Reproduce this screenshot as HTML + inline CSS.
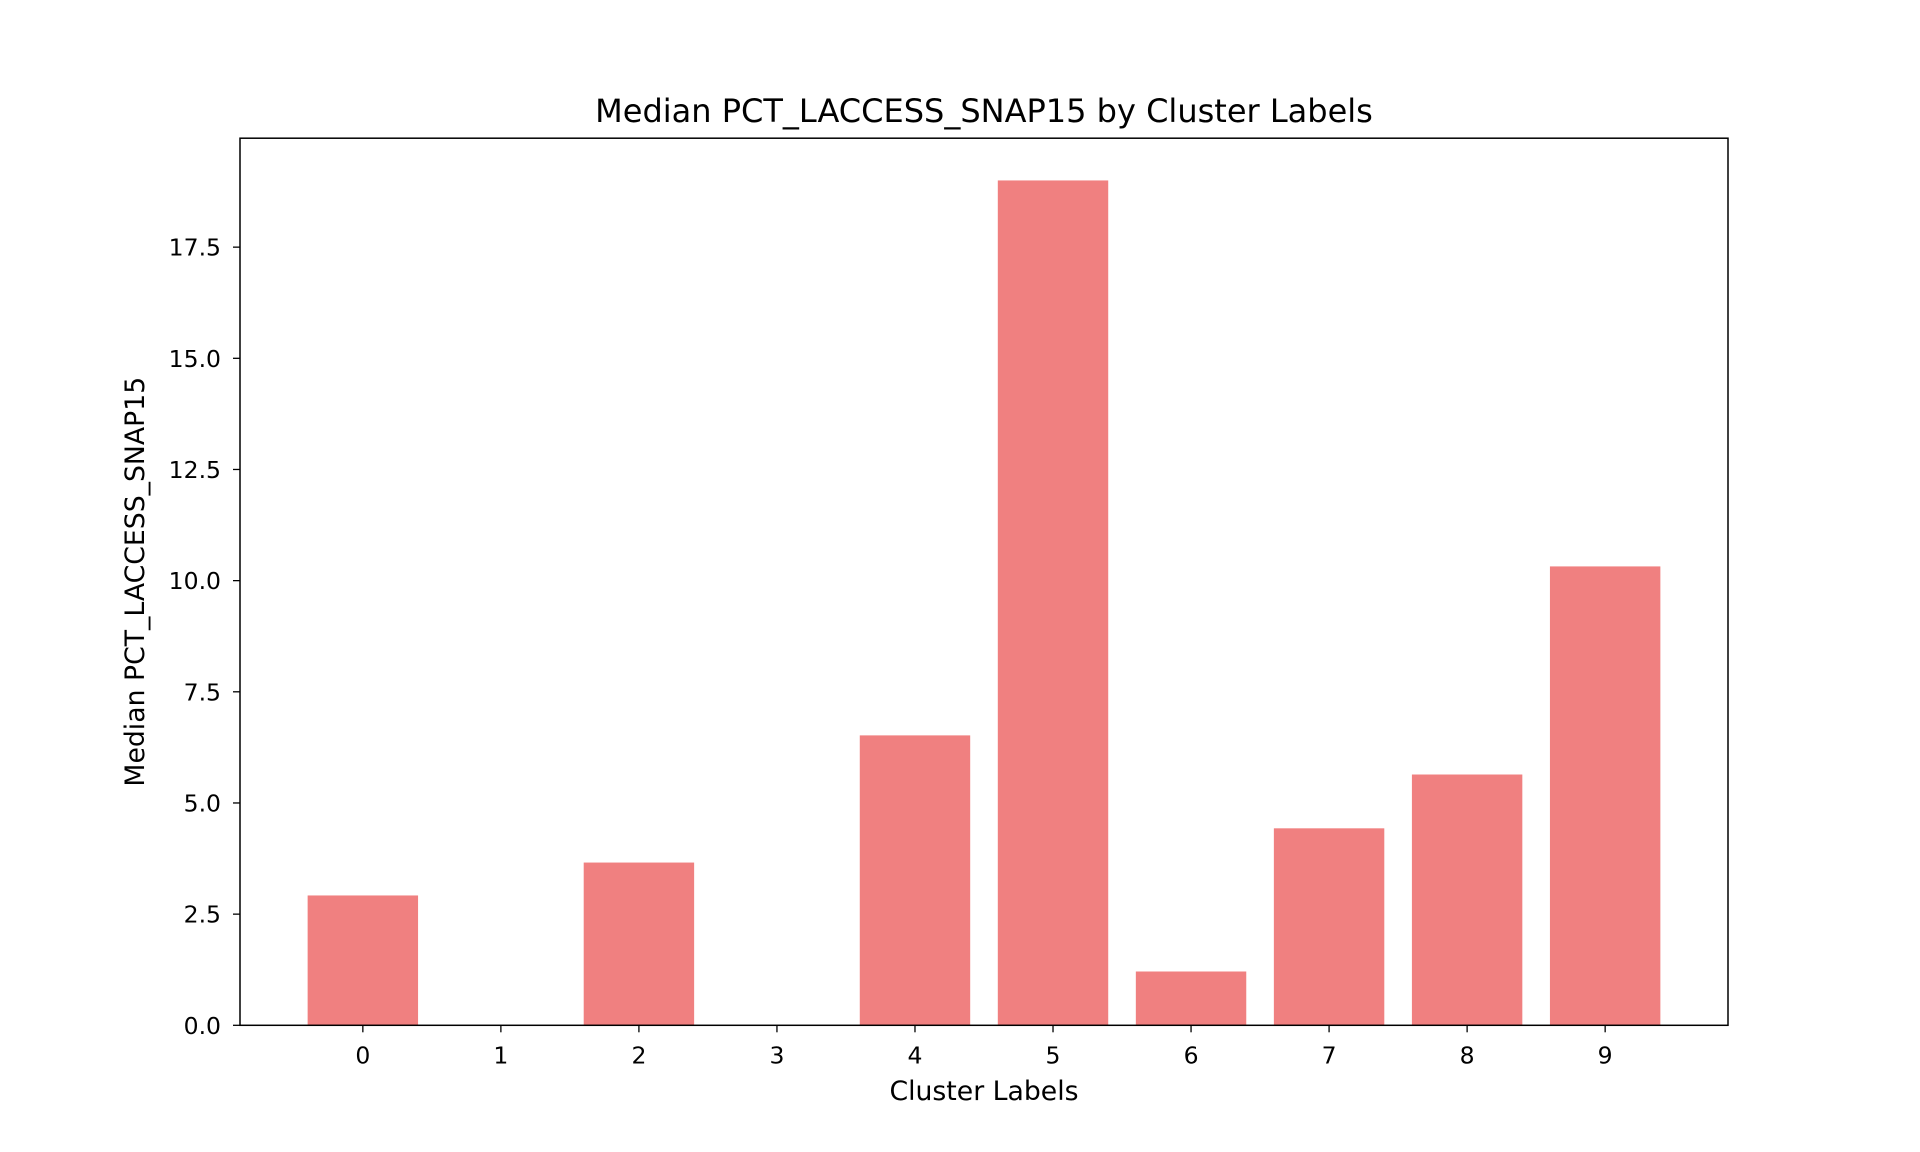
<!DOCTYPE html>
<html><head><meta charset="utf-8"><style>
html,body{margin:0;padding:0;background:#fff;}
svg{display:block;font-family:"DejaVu Sans","Liberation Sans",sans-serif;}
</style></head><body>
<svg id="chart" width="1920" height="1152" viewBox="0 0 1920 1152" xmlns="http://www.w3.org/2000/svg">
<rect width="1920" height="1152" fill="#fff"/>
<g id="bars"></g>
<g id="axes"></g>
<text x="984" y="122" font-size="32" text-anchor="middle">Median PCT_LACCESS_SNAP15 by Cluster Labels</text>
<text x="984" y="1100" font-size="26.7" text-anchor="middle">Cluster Labels</text>
<text x="0" y="0" font-size="26.7" text-anchor="middle" transform="translate(144,581.7) rotate(-90)">Median PCT_LACCESS_SNAP15</text>
</svg>
<script>
const categories = ["0","1","2","3","4","5","6","7","8","9"];
const values = [2.92, 0, 3.66, 0, 6.52, 19.0, 1.21, 4.43, 5.64, 10.32];
const yTicks = [0, 2.5, 5, 7.5, 10, 12.5, 15, 17.5];
const yTickLabels = ["0.0","2.5","5.0","7.5","10.0","12.5","15.0","17.5"];

const L=240, R=1728, T=138.2, B=1025.3;
const ns="http://www.w3.org/2000/svg";
const yMax = Math.max(...values)*1.05;
const n = categories.length;
const xMin = -0.4 - 0.05*(n-1+0.8), xMax = n-1+0.4 + 0.05*(n-1+0.8);
const xs = v => L + (v - xMin)/(xMax - xMin)*(R-L);
const ys = v => B - v/yMax*(B-T);
function mk(tag, attrs, parent){const e=document.createElementNS(ns,tag);for(const k in attrs)e.setAttribute(k,attrs[k]);parent.appendChild(e);return e;}
const bars=document.getElementById('bars'), axes=document.getElementById('axes');
values.forEach((v,i)=>{
  const r=mk('rect',{x:xs(i-0.4),y:ys(v),width:xs(i+0.4)-xs(i-0.4),height:B-ys(v),fill:'#f08080'},bars);
  
  
});
categories.forEach((c,i)=>{
  const x=xs(i);
  const t=mk('line',{x1:x,x2:x,y1:B,y2:B+7,stroke:'#000','stroke-width':1.3},axes);
  
  
  const l=mk('text',{x:x,y:B+38,'font-size':23.5,'text-anchor':'middle'},axes);
  l.textContent=c;
  
  
});
yTicks.forEach((v,i)=>{
  const y=ys(v);
  const t=mk('line',{x1:L-7,x2:L,y1:y,y2:y,stroke:'#000','stroke-width':1.3},axes);
  
  
  const l=mk('text',{x:L-19,y:y+8.5,'font-size':23.5,'text-anchor':'end'},axes);
  l.textContent=yTickLabels[i];
  
  
});
const f=mk('rect',{x:L,y:T,width:R-L,height:B-T,fill:'none',stroke:'#000','stroke-width':1.5},axes);


</script>
</body></html>
